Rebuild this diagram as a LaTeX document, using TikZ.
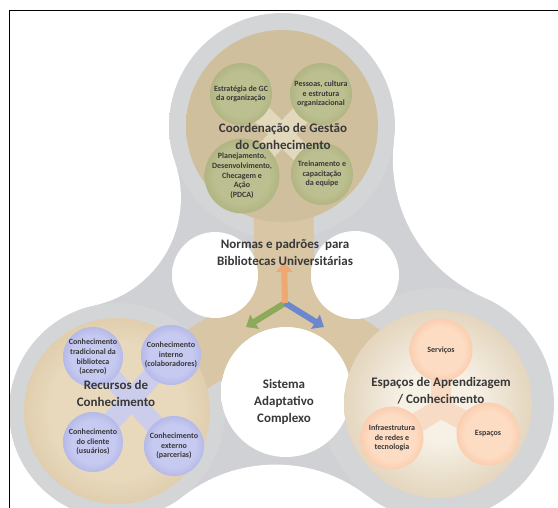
\documentclass[tikz,border=0pt]{standalone}
\usepackage{fontspec}
\setmainfont{Carlito}
\usetikzlibrary{calc,arrows.meta}

\definecolor{texto}{HTML}{383838}
\definecolor{cinzaborda}{HTML}{ADAEB3}
\definecolor{cinzameio}{HTML}{D0D1D4}
\definecolor{cinzaclaro}{HTML}{D4D5D7}
\definecolor{furo}{HTML}{DCDCDD}
\definecolor{bege}{HTML}{D8C6A4}
\definecolor{begetopoA}{HTML}{CFBF9D}
\definecolor{begetopoB}{HTML}{BDA37A}
\definecolor{begeesqA}{HTML}{E8D9BD}
\definecolor{begeesqB}{HTML}{C3A577}
\definecolor{begedirA}{HTML}{F6F0E5}
\definecolor{begedirB}{HTML}{C6AA7E}
\definecolor{verdeA}{HTML}{BCBF8F}
\definecolor{verdeB}{HTML}{8A915A}
\definecolor{azulA}{HTML}{C6C9F0}
\definecolor{azulB}{HTML}{7C83CA}
\definecolor{laranjaA}{HTML}{FDDCC4}
\definecolor{laranjaB}{HTML}{F39C66}
\definecolor{cruzverde}{HTML}{E2D9BD}
\definecolor{cruzazul}{HTML}{CBCDEB}
\definecolor{cruzlaranja}{HTML}{F7DBC4}
\definecolor{setalaranja}{HTML}{EEA872}
\definecolor{setaverde}{HTML}{8DAA5A}
\definecolor{setaazul}{HTML}{6D87CF}

\pgfdeclareradialshading{anelcinza}{\pgfpoint{0bp}{0bp}}{color(0bp)=(cinzaclaro); color(38bp)=(cinzaclaro); color(50bp)=(cinzaborda)}
\pgfdeclareradialshading{furobranco}{\pgfpoint{0bp}{0bp}}{color(0bp)=(white); color(24bp)=(white); color(50bp)=(furo)}
\pgfdeclareradialshading{discotopo}{\pgfpoint{0bp}{0bp}}{color(0bp)=(begetopoA); color(34bp)=(begetopoA); color(50bp)=(begetopoB)}
\pgfdeclareradialshading{discoesq}{\pgfpoint{0bp}{0bp}}{color(0bp)=(begeesqA); color(18bp)=(begeesqA); color(50bp)=(begeesqB)}
\pgfdeclareradialshading{discodir}{\pgfpoint{0bp}{0bp}}{color(0bp)=(begedirA); color(10bp)=(begedirA); color(50bp)=(begedirB)}
\pgfdeclareradialshading{shverde}{\pgfpoint{0bp}{0bp}}{color(0bp)=(verdeA); color(18bp)=(verdeA); color(50bp)=(verdeB)}
\pgfdeclareradialshading{shazul}{\pgfpoint{0bp}{0bp}}{color(0bp)=(azulA); color(18bp)=(azulA); color(50bp)=(azulB)}
\pgfdeclareradialshading{shlaranja}{\pgfpoint{0bp}{0bp}}{color(0bp)=(laranjaA); color(18bp)=(laranjaA); color(50bp)=(laranjaB)}

\begin{document}
\begin{tikzpicture}[x=1pt,y=-1pt,
  titulo/.style={font=\bfseries\fontsize{13}{17}\selectfont,text=texto,align=center,inner sep=0pt},
  bola/.style={circle,shade,inner sep=0pt,minimum size=#1,align=center,text=texto,font=\bfseries\fontsize{8}{9.6}\selectfont},
  gcverde/.style={bola=62pt,shading=shverde},
  gcazul/.style={bola=60pt,shading=shazul},
  gclaranja/.style={bola=63pt,shading=shlaranja},
  cruz/.style={line width=20pt},
  seta/.style={line width=6pt,-{Triangle[width=16pt,length=10pt]}}]
\useasboundingbox (0,0) rectangle (558,508);
\coordinate (T) at (282,126);
\coordinate (BL) at (117,411);
\coordinate (BR) at (438,404);
\coordinate (CL) at (70.9,197.9);
\coordinate (CR) at (542.9,159.5);
\coordinate (CB) at (275.5,614.6);
\coordinate (J) at (285,303);
\begin{scope}
\clip (9,11) rectangle (558,508);
\fill[cinzameio] (T) -- ($(T)!113pt!(CL)$) -- ($(BL)!108pt!(CL)$) -- (BL) -- ($(BL)!108pt!(CB)$) -- ($(BR)!116pt!(CB)$) -- (BR) -- ($(BR)!116pt!(CR)$) -- ($(T)!113pt!(CR)$) -- cycle;
\shade[shading=anelcinza] (T) circle (113pt);
\shade[shading=anelcinza] (BL) circle (108pt);
\shade[shading=anelcinza] (BR) circle (116pt);
\fill[white] (CL) circle (110pt) (CR) circle (150pt) (CB) circle (150pt);
\draw[bege,line width=60pt,line cap=round] (J) -- (T) (J) -- (BL) (J) -- (BR);
\shade[shading=furobranco] (215,275) circle (43pt);
\shade[shading=furobranco] (355,275) circle (44pt);
\shade[shading=furobranco] (286,392) circle (65pt);
\shade[shading=discotopo] (T) circle (96pt);
\shade[shading=discoesq] (BL) circle (93pt);
\shade[shading=discodir] (BR) circle (94pt);
\end{scope}

\coordinate (g1) at (241,94);
\coordinate (g2) at (321,94);
\coordinate (g3) at (242,176);
\coordinate (g4) at (322,174);
\draw[cruz,cruzverde] (g1) -- (g4) (g2) -- (g3);
\node[gcverde] (estrategia) at (g1) {Estratégia de GC\\da organização};
\node[gcverde] (pessoas) at (g2) {Pessoas, cultura\\e estrutura\\organizacional};
\node[gcverde] (pdca) at (g3) {Planejamento,\\Desenvolvimento,\\Checagem e\\Ação\\(PDCA)};
\node[gcverde] (treinamento) at (g4) {Treinamento e\\capacitação\\da equipe};
\node[titulo] (coordenacao) at (283,136) {Coordenação de Gestão\\do Conhecimento};

\coordinate (b1) at (93,357);
\coordinate (b2) at (171,355);
\coordinate (b3) at (93,442);
\coordinate (b4) at (174,446);
\draw[cruz,cruzazul] (b1) -- (b4) (b2) -- (b3);
\node[gcazul] (tradicional) at (b1) {Conhecimento\\tradicional da\\biblioteca\\(acervo)};
\node[gcazul] (interno) at (b2) {Conhecimento\\interno\\(colaboradores)};
\node[gcazul] (cliente) at (b3) {Conhecimento\\do cliente\\(usuários)};
\node[gcazul] (externo) at (b4) {Conhecimento\\externo\\(parcerias)};
\node[titulo] (recursos) at (116,393) {Recursos de\\Conhecimento};

\coordinate (o1) at (441,350);
\coordinate (o2) at (392,438);
\coordinate (o3) at (488,434);
\coordinate (o0) at (441,408);
\draw[cruz,cruzlaranja] (o0) -- (o1) (o0) -- (o2) (o0) -- (o3);
\node[gclaranja] (servicos) at (o1) {Serviços};
\node[gclaranja] (infra) at (o2) {Infraestrutura\\de redes e\\tecnologia};
\node[gclaranja] (espacosbola) at (o3) {Espaços};
\node[titulo] (espacos) at (441,391) {Espaços de Aprendizagem\\/ Conhecimento};

\coordinate (pontacima) at (284,262);
\coordinate (pontaesq) at (246,327);
\coordinate (pontadir) at (324,327);
\draw[seta,setaverde] (J) -- (pontaesq);
\draw[seta,setaazul] (J) -- (pontadir);
\draw[seta,setalaranja] (J) -- (pontacima);
\node[titulo] (normas) at (285,252) {Normas e padrões~ para\\Bibliotecas Universitárias};
\node[titulo] (sistema) at (284,402) {Sistema\\Adaptativo\\Complexo};

\draw[line width=1pt] (9,508) -- (9,11) -- (558,11);
\end{tikzpicture}
\end{document}
